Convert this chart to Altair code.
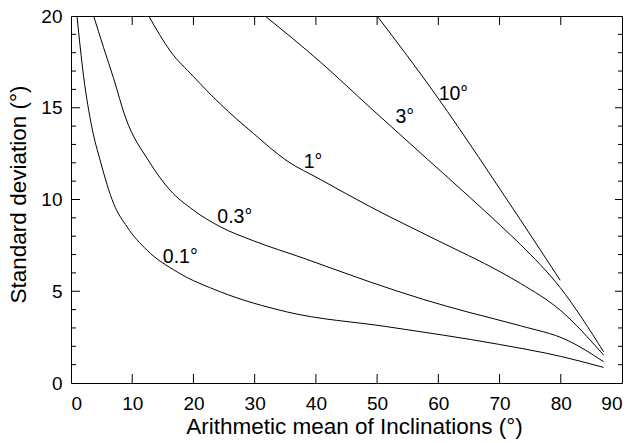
import altair as alt
import pandas as pd

# Curves of standard deviation vs. arithmetic mean inclination, one per level
curve_01_x = [0.98, 2.06, 3.4, 4.79, 6.96, 9.15, 12.4, 17.3, 24.4, 35.2, 51.6, 70.0, 80.0, 87.0]
curve_01_y = [20.0, 16.7, 13.95, 12.1, 9.78, 8.51, 7.24, 6.06, 4.97, 3.88, 3.07, 2.1, 1.45, 0.85]

curve_03_x = [3.7, 5.3, 6.96, 8.87, 12.7, 16.2, 20.0, 24.4, 29.8, 38.0, 48.9, 57.6, 65.0, 73.4, 81.0, 87.0]
curve_03_y = [20.0, 18.3, 16.6, 14.5, 12.1, 10.5, 9.42, 8.51, 7.75, 6.8, 5.5, 4.55, 3.85, 3.12, 2.34, 1.16]

curve_1_x = [12.7, 16.2, 20.0, 24.4, 29.8, 35.3, 40.7, 48.9, 59.8, 70.1, 73.4, 79.9, 87.0]
curve_1_y = [20.0, 18.1, 16.7, 15.2, 13.6, 12.1, 11.1, 9.6, 7.78, 6.06, 5.43, 3.97, 1.52]

curve_3_x = [31.7, 40.7, 48.9, 58.2, 65.2, 70.1, 73.4, 79.9, 87.0]
curve_3_y = [20.0, 17.5, 15.0, 12.2, 10.1, 8.6, 7.55, 5.2, 1.70]

curve_10_x = [50.0, 59.8, 66.6, 70.1, 73.4, 79.9]
curve_10_y = [20.0, 15.6, 12.3, 10.55, 8.9, 5.6]

curve_names = ["0.1°", "0.3°", "1°", "3°", "10°"]

# In-plot curve labels (left edge x, vertical centre y)
label_text = ["0.1°", "0.3°", "1°", "3°", "10°"]
label_x = [15.0, 23.9, 38.0, 53.0, 60.05]
label_y = [6.84, 9.05, 12.05, 14.5, 15.77]

# Tick positions
x_tick_labels = [0, 10, 20, 30, 40, 50, 60, 70, 80, 90]
x_inner_ticks = [10, 20, 30, 40, 50, 60, 70, 80]
y_tick_labels = [0, 5, 10, 15, 20]
y_major_ticks = [5, 10, 15]
y_minor_ticks = [1, 2, 3, 4, 6, 7, 8, 9, 11, 12, 13, 14, 16, 17, 18, 19]

W, H = 551, 367
FONT = "Liberation Sans"

rows = []
for name, xs_, ys_ in zip(curve_names,
                          [curve_01_x, curve_03_x, curve_1_x, curve_3_x, curve_10_x],
                          [curve_01_y, curve_03_y, curve_1_y, curve_3_y, curve_10_y]):
    for i, (a, b) in enumerate(zip(xs_, ys_)):
        rows.append({"curve": name, "order": i, "mean": a, "sd": b})
curves = pd.DataFrame(rows)

xscale = alt.Scale(domain=[0, 90], nice=False, zero=False)
yscale = alt.Scale(domain=[0, 20], nice=False, zero=False)

xaxis = alt.Axis(
    values=x_tick_labels, ticks=False, tickSize=0, domain=False, grid=False,
    labelFont=FONT, labelFontSize=19, labelColor="black", labelPadding=11,
    title="Arithmetic mean of Inclinations (°)", titleFont=FONT, titleFontSize=22.5,
    titleFontWeight="normal", titleColor="black", titleX=283, titleY=50,
    titleAlign="center", titleBaseline="alphabetic")
yaxis = alt.Axis(
    values=y_tick_labels, ticks=False, tickSize=0, domain=False, grid=False,
    labelFont=FONT, labelFontSize=19, labelColor="black", labelPadding=9,
    title="Standard deviation (°)", titleFont=FONT, titleFontSize=22.5,
    titleFontWeight="normal", titleColor="black", titleX=-53, titleY=178,
    titleAngle=270, titleAlign="center", titleBaseline="middle")

lines = alt.Chart(curves).mark_line(
    color="black", strokeWidth=1, interpolate="monotone", clip=True
).encode(
    x=alt.X("mean:Q", scale=xscale, axis=xaxis),
    y=alt.Y("sd:Q", scale=yscale, axis=yaxis),
    detail="curve:N",
    order="order:Q",
)

labels = alt.Chart(pd.DataFrame({"t": label_text, "x": label_x, "y": label_y})).mark_text(
    align="left", baseline="middle", font=FONT, fontSize=19.5, color="black"
).encode(
    x=alt.X("x:Q", scale=xscale, axis=xaxis),
    y=alt.Y("y:Q", scale=yscale, axis=yaxis),
    text="t:N",
)

xt = pd.DataFrame({"v": x_inner_ticks})
bottom_ticks = alt.Chart(xt).mark_rule(color="black", strokeWidth=1).encode(
    x=alt.X("v:Q", scale=xscale, axis=xaxis), y=alt.value(H), y2=alt.value(H - 9))
top_ticks = alt.Chart(xt).mark_rule(color="black", strokeWidth=1).encode(
    x=alt.X("v:Q", scale=xscale, axis=xaxis), y=alt.value(0), y2=alt.value(9))

ymaj = pd.DataFrame({"v": y_major_ticks})
ymin = pd.DataFrame({"v": y_minor_ticks})
left_major = alt.Chart(ymaj).mark_rule(color="black", strokeWidth=1).encode(
    y=alt.Y("v:Q", scale=yscale, axis=yaxis), x=alt.value(0), x2=alt.value(9))
left_minor = alt.Chart(ymin).mark_rule(color="black", strokeWidth=1).encode(
    y=alt.Y("v:Q", scale=yscale, axis=yaxis), x=alt.value(0), x2=alt.value(5))
right_major = alt.Chart(ymaj).mark_rule(color="black", strokeWidth=1).encode(
    y=alt.Y("v:Q", scale=yscale, axis=yaxis), x=alt.value(W), x2=alt.value(W - 7))
right_minor = alt.Chart(ymin).mark_rule(color="black", strokeWidth=1).encode(
    y=alt.Y("v:Q", scale=yscale, axis=yaxis), x=alt.value(W), x2=alt.value(W - 4))

chart = alt.layer(
    lines, labels, bottom_ticks, top_ticks, left_major, left_minor, right_major, right_minor
).properties(
    width=W, height=H,
    autosize=alt.AutoSizeParams(type="none"),
    padding={"left": 71, "top": 16, "right": 12, "bottom": 60},
    background="white",
).configure_view(stroke="black", strokeWidth=1)

chart.save("out.html", embed_options={"renderer": "svg", "actions": False})
